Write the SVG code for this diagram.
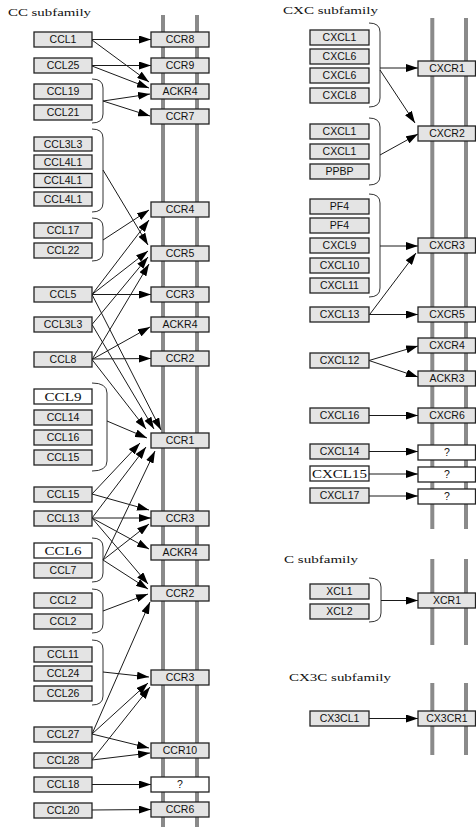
<svg xmlns="http://www.w3.org/2000/svg" width="476" height="827" viewBox="0 0 476 827">
<style>
.bg{fill:#fff}
.mem{stroke:#8a8a8a;stroke-width:4;fill:none}
.box{fill:#e4e4e4;stroke:#222;stroke-width:1.3}
.wbox{fill:#fff;stroke:#222;stroke-width:1.3}
.t{font-family:"Liberation Sans",Arial,sans-serif;font-size:10.5px;fill:#111;text-anchor:middle}
.ts{font-family:"Liberation Serif","Times New Roman",serif;font-size:12.5px;fill:#111;text-anchor:middle}
.title{font-family:"Liberation Serif","Times New Roman",serif;font-size:11px;fill:#111}
.br{fill:none;stroke:#333;stroke-width:1}
.c{stroke:#1a1a1a;stroke-width:1;fill:none;marker-end:url(#ah)}
</style>
<defs>
<marker id="ah" viewBox="0 0 12 8" refX="12" refY="4" markerWidth="12" markerHeight="8" markerUnits="userSpaceOnUse" orient="auto">
<path d="M0,0 L12,4 L0,8 z" fill="#000"/>
</marker>
</defs>
<rect class="bg" x="0" y="0" width="476" height="827"/>

<g id="titles">
<text class="title" x="8" y="16" textLength="83" lengthAdjust="spacingAndGlyphs">CC subfamily</text>
<text class="title" x="283" y="13.5" textLength="95" lengthAdjust="spacingAndGlyphs">CXC subfamily</text>
<text class="title" x="284" y="563" textLength="74" lengthAdjust="spacingAndGlyphs">C subfamily</text>
<text class="title" x="289" y="681" textLength="102" lengthAdjust="spacingAndGlyphs">CX3C subfamily</text>
</g>

<g id="membranes">
<line class="mem" x1="163" y1="15" x2="163" y2="827"/>
<line class="mem" x1="197" y1="15" x2="197" y2="827"/>
<line class="mem" x1="432.3" y1="18" x2="432.3" y2="529"/>
<line class="mem" x1="466" y1="18" x2="466" y2="529"/>
<line class="mem" x1="432.3" y1="559" x2="432.3" y2="645"/>
<line class="mem" x1="466" y1="559" x2="466" y2="645"/>
<line class="mem" x1="432.3" y1="683" x2="432.3" y2="755"/>
<line class="mem" x1="466" y1="683" x2="466" y2="755"/>
</g>

<g id="brackets">
<path class="br" d="M92,79 Q103,79 103,88 L103,114 Q103,123 92,123"/>
<path class="br" d="M92,129 Q103,129 103,138 L103,203 Q103,212 92,212"/>
<path class="br" d="M92,218 Q103,218 103,227 L103,252 Q103,261 92,261"/>
<path class="br" d="M92,383 Q107,383 107,393 L107,461 Q107,471 92,471"/>
<path class="br" d="M92,538 Q103,538 103,547 L103,573 Q103,582 92,582"/>
<path class="br" d="M92,589 Q103,589 103,598 L103,624 Q103,633 92,633"/>
<path class="br" d="M92,640 Q103,640 103,649 L103,696 Q103,705 92,705"/>
<path class="br" d="M369,23 Q380,23 380,32 L380,98 Q380,107 369,107"/>
<path class="br" d="M369,118 Q380,118 380,127 L380,176 Q380,185 369,185"/>
<path class="br" d="M369,194 Q380,194 380,203 L380,288 Q380,297 369,297"/>
<path class="br" d="M369,578 Q381,578 381,587 L381,613 Q381,622 369,622"/>
</g>

<g id="connectors">
<line class="c" x1="92" y1="39.5" x2="151" y2="39.5"/>
<line class="c" x1="92" y1="40" x2="149" y2="82"/>
<line class="c" x1="92" y1="65.5" x2="151" y2="65.5"/>
<line class="c" x1="92" y1="66" x2="149" y2="88"/>
<line class="c" x1="103" y1="101" x2="150" y2="94"/>
<line class="c" x1="103" y1="101" x2="150" y2="116"/>
<line class="c" x1="103" y1="170" x2="148" y2="245"/>
<line class="c" x1="103" y1="240" x2="149" y2="210"/>
<line class="c" x1="92" y1="294.5" x2="149" y2="220"/>
<line class="c" x1="92" y1="294.5" x2="148" y2="251"/>
<line class="c" x1="92" y1="324.5" x2="148" y2="257"/>
<line class="c" x1="92" y1="359.5" x2="149" y2="264"/>
<line class="c" x1="92" y1="294.5" x2="151" y2="294.5"/>
<line class="c" x1="92" y1="359.5" x2="150" y2="327"/>
<line class="c" x1="92" y1="359" x2="151" y2="358.5"/>
<line class="c" x1="92" y1="359.5" x2="146" y2="429"/>
<line class="c" x1="92" y1="324.5" x2="154" y2="429"/>
<line class="c" x1="92" y1="294.5" x2="161" y2="430"/>
<line class="c" x1="107" y1="421" x2="147" y2="438"/>
<line class="c" x1="92" y1="494" x2="140" y2="443"/>
<line class="c" x1="92" y1="518" x2="146" y2="447"/>
<line class="c" x1="103" y1="560" x2="155" y2="451"/>
<line class="c" x1="92" y1="494" x2="149" y2="510"/>
<line class="c" x1="92" y1="518" x2="151" y2="518"/>
<line class="c" x1="103" y1="560" x2="149" y2="524"/>
<line class="c" x1="92" y1="518" x2="149" y2="549"/>
<line class="c" x1="92" y1="518" x2="148" y2="584"/>
<line class="c" x1="103" y1="560" x2="148" y2="589"/>
<line class="c" x1="103" y1="611" x2="148" y2="594"/>
<line class="c" x1="92" y1="734" x2="150" y2="602"/>
<line class="c" x1="103" y1="672" x2="149" y2="677"/>
<line class="c" x1="92" y1="734" x2="148" y2="683"/>
<line class="c" x1="92" y1="760" x2="150" y2="687"/>
<line class="c" x1="92" y1="734" x2="149" y2="748"/>
<line class="c" x1="92" y1="760" x2="150" y2="753"/>
<line class="c" x1="92" y1="784.5" x2="151" y2="784.5"/>
<line class="c" x1="92" y1="810" x2="151" y2="809.5"/>
<line class="c" x1="380" y1="68" x2="418" y2="68"/>
<line class="c" x1="380" y1="70" x2="415" y2="123"/>
<line class="c" x1="380" y1="155" x2="418" y2="134"/>
<line class="c" x1="380" y1="246" x2="418" y2="246"/>
<line class="c" x1="370" y1="314" x2="416" y2="253"/>
<line class="c" x1="369" y1="314.5" x2="418" y2="314.5"/>
<line class="c" x1="369" y1="360.5" x2="418" y2="346"/>
<line class="c" x1="369" y1="360.5" x2="418" y2="377"/>
<line class="c" x1="369" y1="415.5" x2="418" y2="415.5"/>
<line class="c" x1="369" y1="451.5" x2="418" y2="451.5"/>
<line class="c" x1="369" y1="474" x2="418" y2="474"/>
<line class="c" x1="369" y1="496" x2="418" y2="496"/>
<line class="c" x1="381" y1="600.5" x2="418" y2="600.5"/>
<line class="c" x1="369" y1="718.5" x2="418" y2="718.5"/>
</g>

<!-- CC ligands -->
<g id="CCL1"><rect class="box" x="34" y="32" width="58" height="15"/><text class="t" x="63" y="43.3">CCL1</text></g>
<g id="CCL25"><rect class="box" x="34" y="58" width="58" height="15"/><text class="t" x="63" y="69.3">CCL25</text></g>
<g id="CCL19"><rect class="box" x="34" y="84" width="58" height="15"/><text class="t" x="63" y="95.3">CCL19</text></g>
<g id="CCL21"><rect class="box" x="34" y="105" width="58" height="15"/><text class="t" x="63" y="116.3">CCL21</text></g>
<g id="CCL3L3a"><rect class="box" x="34" y="137" width="58" height="14"/><text class="t" x="63" y="147.8">CCL3L3</text></g>
<g id="CCL4L1a"><rect class="box" x="34" y="155" width="58" height="14"/><text class="t" x="63" y="165.8">CCL4L1</text></g>
<g id="CCL4L1b"><rect class="box" x="34" y="173.5" width="58" height="14"/><text class="t" x="63" y="184.3">CCL4L1</text></g>
<g id="CCL4L1c"><rect class="box" x="34" y="192" width="58" height="14"/><text class="t" x="63" y="202.8">CCL4L1</text></g>
<g id="CCL17"><rect class="box" x="34" y="223" width="58" height="15"/><text class="t" x="63" y="234.3">CCL17</text></g>
<g id="CCL22"><rect class="box" x="34" y="243" width="58" height="15"/><text class="t" x="63" y="254.3">CCL22</text></g>
<g id="CCL5"><rect class="box" x="34" y="287" width="58" height="15"/><text class="t" x="63" y="298.3">CCL5</text></g>
<g id="CCL3L3b"><rect class="box" x="34" y="317" width="58" height="15"/><text class="t" x="63" y="328.3">CCL3L3</text></g>
<g id="CCL8"><rect class="box" x="34" y="352" width="58" height="15"/><text class="t" x="63" y="363.3">CCL8</text></g>
<g id="CCL9"><rect class="wbox" x="34" y="389" width="58" height="15"/><text class="ts" x="63" y="401" textLength="37" lengthAdjust="spacingAndGlyphs">CCL9</text></g>
<g id="CCL14"><rect class="box" x="34" y="410" width="58" height="15"/><text class="t" x="63" y="421.3">CCL14</text></g>
<g id="CCL16"><rect class="box" x="34" y="430" width="58" height="15"/><text class="t" x="63" y="441.3">CCL16</text></g>
<g id="CCL15a"><rect class="box" x="34" y="450" width="58" height="15"/><text class="t" x="63" y="461.3">CCL15</text></g>
<g id="CCL15b"><rect class="box" x="34" y="487" width="58" height="15"/><text class="t" x="63" y="498.3">CCL15</text></g>
<g id="CCL13"><rect class="box" x="34" y="511" width="58" height="15"/><text class="t" x="63" y="522.3">CCL13</text></g>
<g id="CCL6"><rect class="wbox" x="34" y="543" width="58" height="15"/><text class="ts" x="63" y="555" textLength="37" lengthAdjust="spacingAndGlyphs">CCL6</text></g>
<g id="CCL7"><rect class="box" x="34" y="563" width="58" height="15"/><text class="t" x="63" y="574.3">CCL7</text></g>
<g id="CCL2a"><rect class="box" x="34" y="593" width="58" height="15"/><text class="t" x="63" y="604.3">CCL2</text></g>
<g id="CCL2b"><rect class="box" x="34" y="614" width="58" height="15"/><text class="t" x="63" y="625.3">CCL2</text></g>
<g id="CCL11"><rect class="box" x="34" y="647" width="58" height="15"/><text class="t" x="63" y="658.3">CCL11</text></g>
<g id="CCL24"><rect class="box" x="34" y="666" width="58" height="15"/><text class="t" x="63" y="677.3">CCL24</text></g>
<g id="CCL26"><rect class="box" x="34" y="686" width="58" height="15"/><text class="t" x="63" y="697.3">CCL26</text></g>
<g id="CCL27"><rect class="box" x="34" y="727" width="58" height="15"/><text class="t" x="63" y="738.3">CCL27</text></g>
<g id="CCL28"><rect class="box" x="34" y="753" width="58" height="15"/><text class="t" x="63" y="764.3">CCL28</text></g>
<g id="CCL18"><rect class="box" x="34" y="777" width="58" height="15"/><text class="t" x="63" y="788.3">CCL18</text></g>
<g id="CCL20"><rect class="box" x="34" y="803" width="58" height="15"/><text class="t" x="63" y="814.3">CCL20</text></g>

<!-- CC receptors -->
<g id="CCR8"><rect class="box" x="151" y="32" width="58" height="15"/><text class="t" x="180" y="43.3">CCR8</text></g>
<g id="CCR9"><rect class="box" x="151" y="58" width="58" height="15"/><text class="t" x="180" y="69.3">CCR9</text></g>
<g id="ACKR4a"><rect class="box" x="151" y="84" width="58" height="15"/><text class="t" x="180" y="95.3">ACKR4</text></g>
<g id="CCR7"><rect class="box" x="151" y="109" width="58" height="15"/><text class="t" x="180" y="120.3">CCR7</text></g>
<g id="CCR4"><rect class="box" x="151" y="202" width="58" height="15"/><text class="t" x="180" y="213.3">CCR4</text></g>
<g id="CCR5"><rect class="box" x="151" y="246" width="58" height="15"/><text class="t" x="180" y="257.3">CCR5</text></g>
<g id="CCR3a"><rect class="box" x="151" y="287" width="58" height="15"/><text class="t" x="180" y="298.3">CCR3</text></g>
<g id="ACKR4b"><rect class="box" x="151" y="317" width="58" height="15"/><text class="t" x="180" y="328.3">ACKR4</text></g>
<g id="CCR2a"><rect class="box" x="151" y="351" width="58" height="15"/><text class="t" x="180" y="362.3">CCR2</text></g>
<g id="CCR1"><rect class="box" x="151" y="433" width="58" height="15"/><text class="t" x="180" y="444.3">CCR1</text></g>
<g id="CCR3b"><rect class="box" x="151" y="511" width="58" height="15"/><text class="t" x="180" y="522.3">CCR3</text></g>
<g id="ACKR4c"><rect class="box" x="151" y="545" width="58" height="15"/><text class="t" x="180" y="556.3">ACKR4</text></g>
<g id="CCR2b"><rect class="box" x="151" y="586" width="58" height="15"/><text class="t" x="180" y="597.3">CCR2</text></g>
<g id="CCR3c"><rect class="box" x="151" y="670" width="58" height="15"/><text class="t" x="180" y="681.3">CCR3</text></g>
<g id="CCR10"><rect class="box" x="151" y="743" width="58" height="15"/><text class="t" x="180" y="754.3">CCR10</text></g>
<g id="CCRq"><rect class="wbox" x="151" y="777" width="58" height="15"/><text class="t" x="180" y="788.3">?</text></g>
<g id="CCR6"><rect class="box" x="151" y="802" width="58" height="15"/><text class="t" x="180" y="813.3">CCR6</text></g>

<!-- CXC / C / CX3C ligands -->
<g id="CXCL1a"><rect class="box" x="310" y="30" width="59" height="15"/><text class="t" x="339.5" y="41.3">CXCL1</text></g>
<g id="CXCL6a"><rect class="box" x="310" y="49" width="59" height="15"/><text class="t" x="339.5" y="60.3">CXCL6</text></g>
<g id="CXCL6b"><rect class="box" x="310" y="68" width="59" height="15"/><text class="t" x="339.5" y="79.3">CXCL6</text></g>
<g id="CXCL8"><rect class="box" x="310" y="88" width="59" height="15"/><text class="t" x="339.5" y="99.3">CXCL8</text></g>
<g id="CXCL1b"><rect class="box" x="310" y="124" width="59" height="15"/><text class="t" x="339.5" y="135.3">CXCL1</text></g>
<g id="CXCL1c"><rect class="box" x="310" y="144" width="59" height="15"/><text class="t" x="339.5" y="155.3">CXCL1</text></g>
<g id="PPBP"><rect class="box" x="310" y="164" width="59" height="15"/><text class="t" x="339.5" y="175.3">PPBP</text></g>
<g id="PF4a"><rect class="box" x="310" y="199" width="59" height="15"/><text class="t" x="339.5" y="210.3">PF4</text></g>
<g id="PF4b"><rect class="box" x="310" y="218" width="59" height="15"/><text class="t" x="339.5" y="229.3">PF4</text></g>
<g id="CXCL9"><rect class="box" x="310" y="238" width="59" height="15"/><text class="t" x="339.5" y="249.3">CXCL9</text></g>
<g id="CXCL10"><rect class="box" x="310" y="258" width="59" height="15"/><text class="t" x="339.5" y="269.3">CXCL10</text></g>
<g id="CXCL11"><rect class="box" x="310" y="278" width="59" height="15"/><text class="t" x="339.5" y="289.3">CXCL11</text></g>
<g id="CXCL13"><rect class="box" x="310" y="307" width="59" height="15"/><text class="t" x="339.5" y="318.3">CXCL13</text></g>
<g id="CXCL12"><rect class="box" x="310" y="353" width="59" height="15"/><text class="t" x="339.5" y="364.3">CXCL12</text></g>
<g id="CXCL16"><rect class="box" x="310" y="408" width="59" height="15"/><text class="t" x="339.5" y="419.3">CXCL16</text></g>
<g id="CXCL14"><rect class="box" x="310" y="444" width="59" height="15"/><text class="t" x="339.5" y="455.3">CXCL14</text></g>
<g id="CXCL15"><rect class="wbox" x="310" y="466" width="59" height="15"/><text class="ts" x="339.5" y="478" textLength="55" lengthAdjust="spacingAndGlyphs">CXCL15</text></g>
<g id="CXCL17"><rect class="box" x="310" y="488" width="59" height="15"/><text class="t" x="339.5" y="499.3">CXCL17</text></g>
<g id="XCL1"><rect class="box" x="310" y="584" width="59" height="15"/><text class="t" x="339.5" y="595.3">XCL1</text></g>
<g id="XCL2"><rect class="box" x="310" y="604" width="59" height="15"/><text class="t" x="339.5" y="615.3">XCL2</text></g>
<g id="CX3CL1"><rect class="box" x="310" y="711" width="59" height="15"/><text class="t" x="339.5" y="722.3">CX3CL1</text></g>

<!-- CXC / C / CX3C receptors -->
<g id="CXCR1"><rect class="box" x="418" y="61" width="57.5" height="15"/><text class="t" x="447" y="72.3">CXCR1</text></g>
<g id="CXCR2"><rect class="box" x="418" y="126" width="57.5" height="15"/><text class="t" x="447" y="137.3">CXCR2</text></g>
<g id="CXCR3"><rect class="box" x="418" y="238" width="57.5" height="15"/><text class="t" x="447" y="249.3">CXCR3</text></g>
<g id="CXCR5"><rect class="box" x="418" y="307" width="57.5" height="15"/><text class="t" x="447" y="318.3">CXCR5</text></g>
<g id="CXCR4"><rect class="box" x="418" y="338" width="57.5" height="15"/><text class="t" x="447" y="349.3">CXCR4</text></g>
<g id="ACKR3"><rect class="box" x="418" y="371" width="57.5" height="15"/><text class="t" x="447" y="382.3">ACKR3</text></g>
<g id="CXCR6"><rect class="box" x="418" y="408" width="57.5" height="15"/><text class="t" x="447" y="419.3">CXCR6</text></g>
<g id="CXCRq1"><rect class="wbox" x="418" y="445" width="57.5" height="15"/><text class="t" x="447" y="456.3">?</text></g>
<g id="CXCRq2"><rect class="wbox" x="418" y="467" width="57.5" height="15"/><text class="t" x="447" y="478.3">?</text></g>
<g id="CXCRq3"><rect class="wbox" x="418" y="489" width="57.5" height="15"/><text class="t" x="447" y="500.3">?</text></g>
<g id="XCR1"><rect class="box" x="418" y="593" width="57.5" height="15"/><text class="t" x="447" y="604.3">XCR1</text></g>
<g id="CX3CR1"><rect class="box" x="418" y="711" width="57.5" height="15"/><text class="t" x="447" y="722.3">CX3CR1</text></g>
</svg>
